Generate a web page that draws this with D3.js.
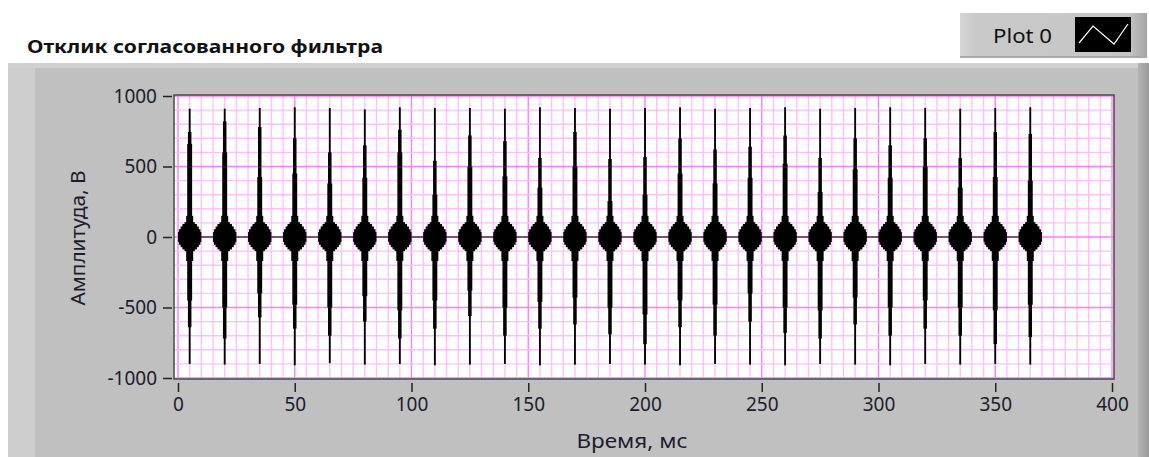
<!DOCTYPE html>
<html>
<head>
<meta charset="utf-8">
<script src="https://cdn.jsdelivr.net/npm/d3@7"></script>
<style>
  body { margin: 0; background: #fff; }
  svg { display: block; font-family: "Noto Sans", "Open Sans", sans-serif; }
</style>
</head>
<body>
<svg id="chart" width="1149" height="457"></svg>
<script>
// Matched filter response: one pulse every 15 ms
const pulseTimes = [5, 20, 35, 50, 65, 80, 95, 110, 125, 140, 155, 170, 185, 200, 215, 230, 245, 260, 275, 290, 305, 320, 335, 350, 365];
const peakHi = [910, 910, 915, 920, 915, 905, 920, 915, 915, 910, 920, 915, 910, 915, 920, 910, 915, 920, 910, 915, 920, 915, 910, 915, 920];
const peakLo = [-900, -905, -900, -910, -895, -905, -900, -910, -905, -900, -910, -905, -900, -905, -910, -900, -905, -910, -900, -905, -910, -900, -905, -900, -905];
const midHi = [745, 820, 780, 700, 600, 650, 760, 540, 720, 680, 560, 745, 553, 567, 700, 620, 640, 720, 560, 700, 650, 700, 560, 745, 730];
const wideHi = [660, 600, 425, 450, 380, 420, 600, 300, 500, 430, 350, 500, 255, 300, 450, 380, 420, 520, 320, 480, 420, 500, 350, 425, 400];
const midLo = [-640, -720, -570, -650, -700, -600, -720, -650, -560, -700, -650, -620, -690, -760, -640, -700, -600, -680, -720, -620, -700, -650, -700, -760, -710];
const wideLo = [-450, -500, -400, -480, -500, -420, -520, -450, -380, -500, -460, -430, -500, -550, -450, -480, -400, -500, -520, -430, -500, -450, -500, -520, -480];

// noise blob around zero, same for every pulse: [half width ms, top, bottom]
const blobLayers = [
  [5.0, 35, -35],
  [4.6, 55, -55],
  [3.9, 75, -72],
  [3.1, 92, -88],
  [2.2, 105, -100],
  [1.5, 150, -170]
];
const signalSpan = [0, 370];

const xTicks = [0, 50, 100, 150, 200, 250, 300, 350, 400];
const yTicks = [-1000, -500, 0, 500, 1000];

const svg = d3.select("#chart");

// panel background
const defs = svg.append("defs");
const lg = defs.append("linearGradient").attr("id", "edgeR").attr("x1", 0).attr("x2", 1);
lg.append("stop").attr("offset", 0).attr("stop-color", "#b4b4b4");
lg.append("stop").attr("offset", 1).attr("stop-color", "#9a9a9a");
const lgL = defs.append("linearGradient").attr("id", "legBg").attr("x1", 0).attr("x2", 1);
lgL.append("stop").attr("offset", 0).attr("stop-color", "#d6d6d6");
lgL.append("stop").attr("offset", 0.08).attr("stop-color", "#c9c9c9");
lgL.append("stop").attr("offset", 0.9).attr("stop-color", "#c6c6c6");
lgL.append("stop").attr("offset", 1).attr("stop-color", "#a4a4a4");

svg.append("rect").attr("x", 8).attr("y", 63).attr("width", 1141).attr("height", 394).attr("fill", "#c0c0c0");
svg.append("rect").attr("x", 8).attr("y", 63).attr("width", 27).attr("height", 394).attr("fill", "#cecece");
svg.append("rect").attr("x", 8).attr("y", 63).attr("width", 1130).attr("height", 5).attr("fill", "#d0d0d0");
svg.append("rect").attr("x", 1138).attr("y", 63).attr("width", 11).attr("height", 394).attr("fill", "url(#edgeR)");

// title
svg.append("text")
  .attr("x", 27).attr("y", 53)
  .attr("font-size", 18).attr("font-weight", "bold").attr("fill", "#111")
  .attr("textLength", 356).attr("lengthAdjust", "spacingAndGlyphs")
  .text("Отклик согласованного фильтра");

// legend
const leg = svg.append("g");
leg.append("rect").attr("x", 960).attr("y", 13).attr("width", 187).attr("height", 45).attr("fill", "url(#legBg)");
leg.append("rect").attr("x", 960).attr("y", 56).attr("width", 187).attr("height", 2).attr("fill", "#a8a8a8");
leg.append("text").attr("x", 993).attr("y", 43).attr("font-size", 20).attr("fill", "#111")
  .attr("textLength", 59).attr("lengthAdjust", "spacingAndGlyphs").text("Plot 0");
leg.append("rect").attr("x", 1075).attr("y", 17).attr("width", 56).attr("height", 35).attr("fill", "#000");
leg.append("polyline")
  .attr("points", "1079,43 1093,26 1114,44 1128,24")
  .attr("fill", "none").attr("stroke", "#fff").attr("stroke-width", 1.2);

// scales
const x = d3.scaleLinear().domain([0, 400]).range([178, 1112]);
const y = d3.scaleLinear().domain([-1000, 1000]).range([378, 96]);

// plot area
const plot = { x0: 174, x1: 1114, y0: 95, y1: 379 };
svg.append("rect").attr("x", plot.x0).attr("y", plot.y0)
  .attr("width", plot.x1 - plot.x0).attr("height", plot.y1 - plot.y0).attr("fill", "#fff");

const grid = svg.append("g");
d3.range(0, 401, 5).forEach(v => {
  const major = v % 50 === 0;
  grid.append("line")
    .attr("x1", x(v)).attr("x2", x(v)).attr("y1", plot.y0).attr("y2", plot.y1)
    .attr("stroke", major ? "#ff7cff" : "#ffbfff").attr("stroke-width", 1.4);
});
d3.range(-1000, 1001, 100).forEach(v => {
  const major = v % 500 === 0;
  grid.append("line")
    .attr("x1", plot.x0).attr("x2", plot.x1).attr("y1", y(v)).attr("y2", y(v))
    .attr("stroke", major ? "#ff7cff" : "#ffbfff").attr("stroke-width", 1.4);
});

// signal
const sig = svg.append("g").attr("fill", "#000");
sig.append("line")
  .attr("x1", x(signalSpan[0])).attr("x2", x(signalSpan[1]))
  .attr("y1", y(0)).attr("y2", y(0))
  .attr("stroke", "#000").attr("stroke-width", 1);

function bar(t, hw, hi, lo) {
  sig.append("rect")
    .attr("x", x(t - hw)).attr("width", x(t + hw) - x(t - hw))
    .attr("y", y(hi)).attr("height", y(lo) - y(hi));
}

pulseTimes.forEach((t, i) => {
  blobLayers.forEach(b => bar(t, b[0], b[1], b[2]));
  bar(t, 1.05, wideHi[i], wideLo[i]);
  bar(t, 0.75, midHi[i], midLo[i]);
  bar(t, 0.4, peakHi[i], peakLo[i]);
});

// frame
svg.append("rect").attr("x", plot.x0).attr("y", plot.y0)
  .attr("width", plot.x1 - plot.x0).attr("height", plot.y1 - plot.y0)
  .attr("fill", "none").attr("stroke", "#4a4a4a").attr("stroke-width", 1.5);

// axes
const fmt = v => String(v);
const yAxis = svg.append("g").attr("transform", "translate(172,0)")
  .call(d3.axisLeft(y).tickValues(yTicks).tickFormat(fmt).tickSize(9).tickPadding(6));
const xAxis = svg.append("g").attr("transform", "translate(0,383)")
  .call(d3.axisBottom(x).tickValues(xTicks).tickFormat(fmt).tickSize(9).tickPadding(6));
[xAxis, yAxis].forEach(a => {
  a.select(".domain").remove();
  a.selectAll(".tick line").attr("stroke", "#222").attr("stroke-width", 1.5);
  a.selectAll(".tick text").attr("font-size", 19).attr("fill", "#1c1c2c")
    .attr("font-family", "\"Noto Sans\", sans-serif");
});

// axis titles
svg.append("text")
  .attr("transform", "translate(85,238) rotate(-90)")
  .attr("text-anchor", "middle").attr("font-size", 20).attr("fill", "#1c1c2c")
  .attr("textLength", 135).attr("lengthAdjust", "spacingAndGlyphs")
  .text("Амплитуда, В");
svg.append("text")
  .attr("x", 632).attr("y", 448)
  .attr("text-anchor", "middle").attr("font-size", 20).attr("fill", "#1c1c2c")
  .attr("textLength", 111).attr("lengthAdjust", "spacingAndGlyphs")
  .text("Время, мс");
</script>
</body>
</html>
